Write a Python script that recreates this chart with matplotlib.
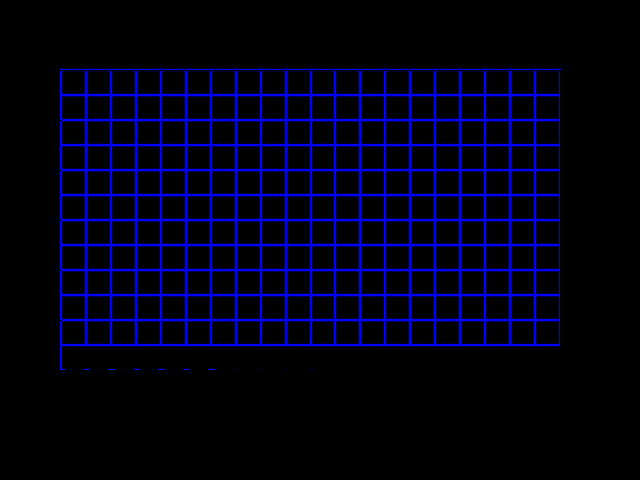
import matplotlib
matplotlib.use("Agg")
import matplotlib.pyplot as plt
import numpy as np

categories = [str(i) for i in range(1, 21)]
n_layers = 11
layer_values = [1] * n_layers
base_values = [0.06, 0.05, 0.05, 0.04, 0.04, 0.03, 0.03, 0.02, 0.02, 0.01,
               0.01, 0.0, 0.0, 0.0, 0.0, 0.0, 0.0, 0.0, 0.0, 0.0]
gap_value = 1.0

fig = plt.figure(figsize=(6.4, 4.8), dpi=100, facecolor="black")
ax = fig.add_axes([61 / 640, 110 / 480, 499 / 640, 300 / 480])
ax.set_facecolor("black")

x = np.arange(len(categories))
base = np.array(base_values)
mask = base > 0
ax.bar(x[mask] - 0.5, base[mask], width=0.25, color="black", edgecolor="blue",
       linewidth=1.0)
bottom = np.full(len(categories), gap_value)
for v in layer_values:
    vals = np.full(len(categories), v)
    bars = ax.bar(x, vals, bottom=bottom, width=1.0, color="black",
                  edgecolor="blue", linewidth=1.7)
    for b in bars:
        b.set_clip_on(False)
    bottom = bottom + vals

ax.set_xlim(-0.5, len(categories) - 0.5)
ax.set_ylim(0, gap_value + sum(layer_values))
ax.set_xticks(x)
ax.set_xticklabels(categories, color="black")
ax.tick_params(colors="black")
for side in ["top", "bottom", "right"]:
    ax.spines[side].set_color("black")
ax.spines["left"].set_color("blue")
ax.spines["left"].set_linewidth(1.5)
ax.spines["left"].set_zorder(0.5)

fig.savefig("out.png", dpi=100, facecolor="black")
